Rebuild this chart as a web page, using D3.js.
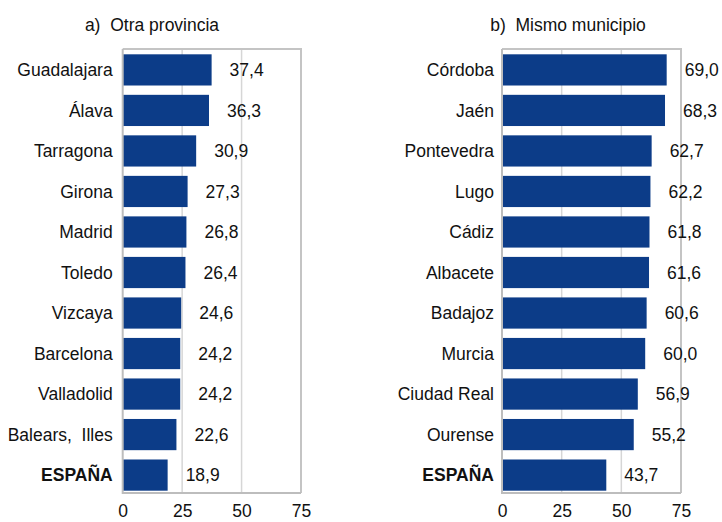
<!DOCTYPE html>
<html>
<head>
<meta charset="utf-8">
<script src="https://cdn.jsdelivr.net/npm/d3@7"></script>
<style>
  body { margin: 0; background: #fff; }
  text { font-family: "Liberation Sans", Arial, sans-serif; fill: #111; }
</style>
</head>
<body>
<div id="chart"></div>
<script>
// panel a) Otra provincia
const provA = ["Guadalajara", "Álava", "Tarragona", "Girona", "Madrid", "Toledo",
  "Vizcaya", "Barcelona", "Valladolid", "Balears,  Illes", "ESPAÑA"];
const valsA = [37.4, 36.3, 30.9, 27.3, 26.8, 26.4, 24.6, 24.2, 24.2, 22.6, 18.9];

// panel b) Mismo municipio
const provB = ["Córdoba", "Jaén", "Pontevedra", "Lugo", "Cádiz", "Albacete",
  "Badajoz", "Murcia", "Ciudad Real", "Ourense", "ESPAÑA"];
const valsB = [69.0, 68.3, 62.7, 62.2, 61.8, 61.6, 60.6, 60.0, 56.9, 55.2, 43.7];

const titles = ["a)  Otra provincia", "b)  Mismo municipio"];
const ticks = [0, 25, 50, 75];

const width = 722, height = 522;
const barColor = "#0c3c88";
const fontSize = "17.5px";
const fmt = v => d3.format(".1f")(v).replace(".", ",");

const svg = d3.select("#chart").append("svg")
  .attr("width", width)
  .attr("height", height);

function drawPanel(names, vals, title, x0, x1, titleX, labelGap) {
  const top = 49, bottom = 493;
  const x = d3.scaleLinear().domain([0, 75]).range([x0, x1]);
  const y = d3.scaleBand()
    .domain(names)
    .range([top, 496])
    .paddingInner(0.23)
    .paddingOuter(0.131);

  const g = svg.append("g");

  // title
  g.append("text")
    .attr("x", titleX)
    .attr("y", 31)
    .attr("text-anchor", "middle")
    .style("font-size", fontSize)
    .style("white-space", "pre")
    .text(title);

  // grid lines
  g.selectAll(".grid")
    .data([25, 50])
    .enter().append("line")
    .attr("x1", d => x(d)).attr("x2", d => x(d))
    .attr("y1", top).attr("y2", bottom)
    .attr("stroke", "#d6d6d6")
    .attr("stroke-width", 1.5);

  // frame top + right
  g.append("path")
    .attr("d", `M${x0},${top}H${x1}V${bottom}`)
    .attr("fill", "none")
    .attr("stroke", "#c4c4c4")
    .attr("stroke-width", 2);

  // bars
  g.selectAll(".bar")
    .data(vals)
    .enter().append("rect")
    .attr("x", x(0))
    .attr("y", (d, i) => y(names[i]))
    .attr("width", d => x(d) - x(0))
    .attr("height", y.bandwidth())
    .attr("fill", barColor);

  // left + bottom axis lines
  g.append("path")
    .attr("d", `M${x0},${top}V${bottom}H${x1}`)
    .attr("fill", "none")
    .attr("stroke", "#bdbdbd")
    .attr("stroke-width", 2);

  // value labels
  g.selectAll(".val")
    .data(vals)
    .enter().append("text")
    .attr("x", d => x(d) + 18)
    .attr("y", (d, i) => y(names[i]) + y.bandwidth() / 2)
    .attr("dy", "0.35em")
    .style("font-size", fontSize)
    .text(d => fmt(d));

  // category labels
  g.selectAll(".cat")
    .data(names)
    .enter().append("text")
    .attr("x", x0 - labelGap)
    .attr("y", d => y(d) + y.bandwidth() / 2)
    .attr("dy", "0.35em")
    .attr("text-anchor", "end")
    .style("font-size", fontSize)
    .style("font-weight", d => d === "ESPAÑA" ? "bold" : "normal")
    .style("white-space", "pre")
    .text(d => d);

  // x axis tick labels
  const axis = g.append("g")
    .attr("transform", `translate(0, ${bottom})`)
    .call(d3.axisBottom(x).tickValues(ticks).tickSize(0).tickPadding(12));
  axis.select(".domain").remove();
  axis.selectAll("text")
    .style("font-size", fontSize)
    .attr("fill", "#111");
}

drawPanel(provA, valsA, titles[0], 122.7, 301, 152, 10);
drawPanel(provB, valsB, titles[1], 502, 681, 568, 8);
</script>
</body>
</html>
